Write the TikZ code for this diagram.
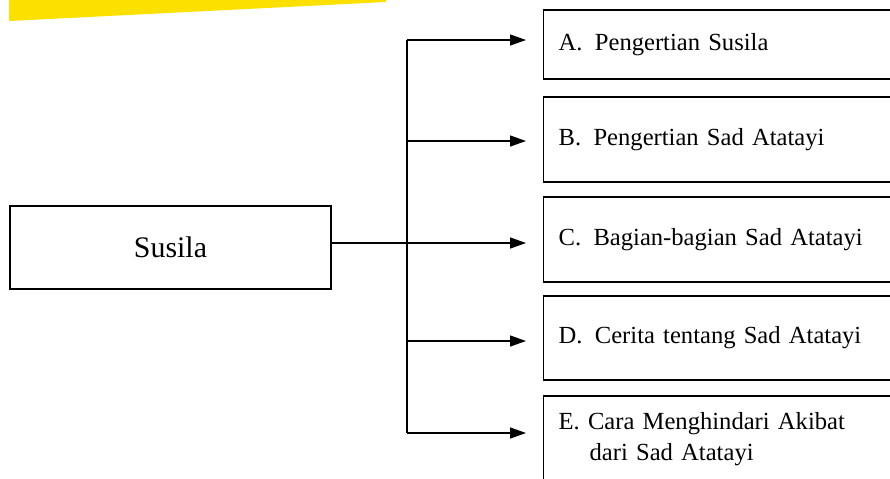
\documentclass[tikz,border=0pt]{standalone}
\usepackage{fontspec}
\setmainfont{Liberation Serif}
\usetikzlibrary{arrows.meta}
\definecolor{banneryellow}{HTML}{FCE100}
\tikzset{
topicbox/.style={draw, line width=0.8pt, minimum width=6.42cm, minimum height=1.66cm,
  font=\fontsize{17}{20}\selectfont},
subbox/.style={draw, line width=0.8pt, anchor=west, align=left, text width=6.6cm,
  inner xsep=0.3cm, inner ysep=0pt, font=\fontsize{14}{18}\selectfont},
branch/.style={line width=0.8pt, -{Triangle[length=0.32cm,width=0.22cm]}, shorten >=0.34cm},
trunk/.style={line width=0.8pt}
}
\begin{document}
\begin{tikzpicture}[x=0.02cm, y=-0.02cm]
\useasboundingbox (0,0) rectangle (890,478);
\clip (0,0) rectangle (890,478);
% yellow band
\fill[banneryellow] (9,-2) -- (386,-2) -- (386,2) -- (9,21) -- cycle;
% main topic
\node[topicbox] (susila) at (170.5,247.5) {Susila};
% sub topics
\node[subbox, minimum height=1.38cm] (A) at (543,44.5) {A.\enspace Pengertian Susila};
\node[subbox, minimum height=1.70cm] (B) at (543,139.5) {B.\enspace Pengertian Sad Atatayi};
\node[subbox, minimum height=1.70cm] (C) at (543,239.5) {C.\enspace Bagian-bagian Sad Atatayi};
\node[subbox, minimum height=1.68cm] (D) at (543,338) {D.\enspace Cerita tentang Sad Atatayi};
\node[subbox, minimum height=1.72cm] (E) at (543,439) {E. Cara Menghindari Akibat\\
  \hspace*{0.62cm}dari Sad Atatayi};
% junctions
\coordinate (jA) at (407,40);
\coordinate (jB) at (407,141);
\coordinate (jC) at (407,243);
\coordinate (jD) at (407,341);
\coordinate (jE) at (407,433);
\draw[trunk] (jA) -- (jE);
\draw[trunk] (susila.east |- jC) -- (jC);
\foreach \j/\b in {jA/A, jB/B, jC/C, jD/D, jE/E}
  \draw[branch] (\j) -- (\b.west |- \j);
\end{tikzpicture}
\end{document}
